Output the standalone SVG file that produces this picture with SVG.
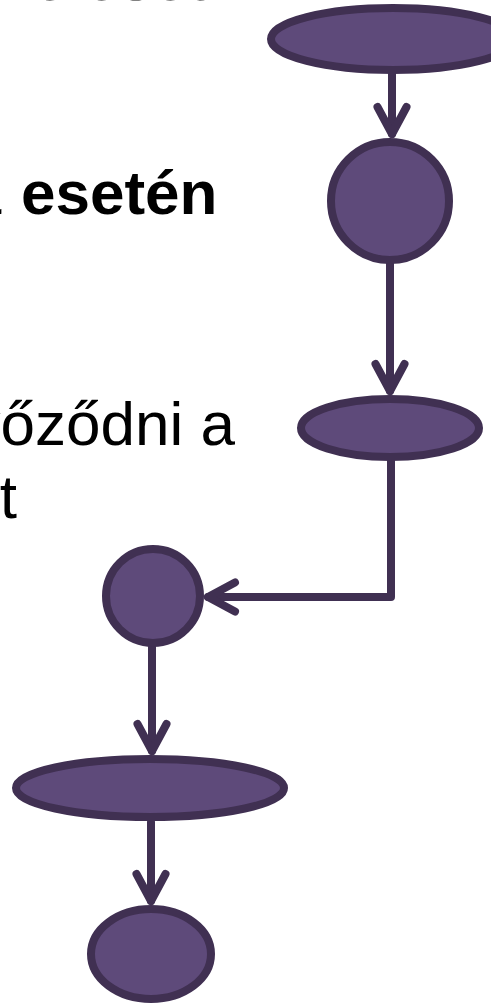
<svg xmlns="http://www.w3.org/2000/svg" width="491" height="1005" viewBox="0 0 491 1005">
  <style>
    .node { fill: #5e4a7a; stroke: #403052; stroke-width: 8; }
    .link { fill: none; stroke: #403052; stroke-width: 8; stroke-linecap: round; stroke-linejoin: round; }
    .txt { font-family: "Liberation Sans", Arial, sans-serif; fill: #000; font-size: 62px; }
    .bold { font-weight: bold; }
  </style>
  <defs>
    <marker id="open-arrow" markerUnits="userSpaceOnUse" markerWidth="60" markerHeight="60"
            viewBox="-40 -30 50 60" refX="0" refY="0" orient="auto" overflow="visible">
      <path d="M -27 -14.5 L 0 0 L -27 14.5" fill="none" stroke="#403052" stroke-width="8"
            stroke-linecap="round" stroke-linejoin="round"/>
    </marker>
  </defs>

  <!-- slide text, partly off the left and top edges -->
  <g id="text">
    <text class="txt bold" x="208" y="0" text-anchor="end" font-size="88">kezelését</text>
    <text class="txt bold" x="1" y="214" text-anchor="end" font-size="66">Hiba</text>
    <text class="txt bold" x="21" y="214" font-size="66">esetén</text>
    <text class="txt" x="235" y="445" text-anchor="end">meggyőződni a</text>
    <text class="txt" x="17" y="518" text-anchor="end">eredményt</text>
  </g>

  <!-- connectors -->
  <g id="connectors">
    <path class="link" d="M 392 74 V 134" marker-end="url(#open-arrow)"/>
    <path class="link" d="M 390 262 V 391" marker-end="url(#open-arrow)"/>
    <path class="link" d="M 391 461 V 597 H 208" marker-end="url(#open-arrow)"/>
    <path class="link" d="M 152 647 V 751" marker-end="url(#open-arrow)"/>
    <path class="link" d="M 151 822 V 901" marker-end="url(#open-arrow)"/>
  </g>

  <!-- nodes -->
  <g id="node-start">
    <ellipse class="node" cx="393" cy="39" rx="122" ry="31"/>
  </g>
  <g id="node-a">
    <circle class="node" cx="390" cy="201" r="59"/>
  </g>
  <g id="node-b">
    <ellipse class="node" cx="390" cy="428" rx="89" ry="29"/>
  </g>
  <g id="node-c">
    <circle class="node" cx="153" cy="596" r="47"/>
  </g>
  <g id="node-d">
    <ellipse class="node" cx="150" cy="788" rx="134" ry="29"/>
  </g>
  <g id="node-end">
    <ellipse class="node" cx="151" cy="954" rx="60" ry="45"/>
  </g>
</svg>
